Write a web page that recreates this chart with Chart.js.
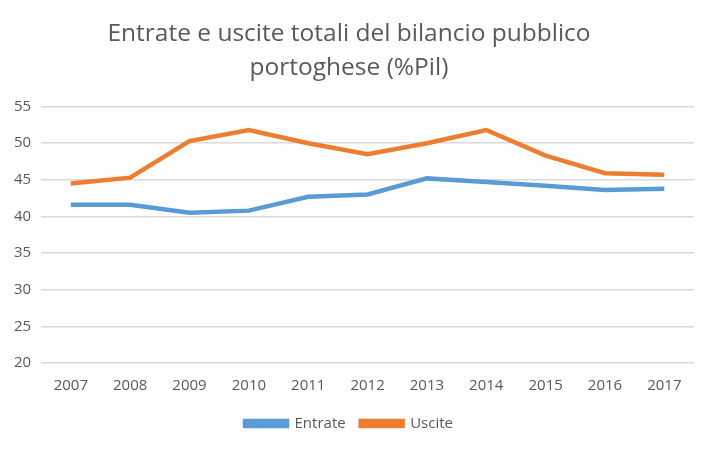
<!DOCTYPE html>
<html>
<head>
<meta charset="utf-8">
<script src="https://cdn.jsdelivr.net/npm/chart.js@4"></script>
<style>
  body { margin: 0; background: #fff; }
</style>
</head>
<body>
<canvas id="GraficoBilancio" width="710" height="451"></canvas>
<script>
var anni = ["2007", "2008", "2009", "2010", "2011", "2012", "2013", "2014", "2015", "2016", "2017"];
var entrate = [41.6, 41.6, 40.5, 40.8, 42.7, 43.0, 45.2, 44.7, 44.2, 43.6, 43.8];
var uscite = [44.5, 45.3, 50.3, 51.8, 50.0, 48.5, 50.0, 51.8, 48.3, 45.9, 45.7];

new Chart(document.getElementById("GraficoBilancio"), {
    type: 'line',
    data: {
        labels: anni,
        datasets: [{
            label: "Entrate",
            data: entrate,
            borderColor: "#5B9BD5",
            backgroundColor: "#5B9BD5",
            borderWidth: 4.5,
            pointRadius: 0,
            fill: false,
            tension: 0
        }, {
            label: "Uscite",
            data: uscite,
            borderColor: "#ED7D31",
            backgroundColor: "#ED7D31",
            borderWidth: 4.5,
            pointRadius: 0,
            fill: false,
            tension: 0
        }]
    },
    options: {
        responsive: false,
        animation: false,
        layout: {
            padding: { left: 4, right: 16, top: 13, bottom: 10 }
        },
        plugins: {
            title: {
                display: true,
                text: ["Entrate e uscite totali del bilancio pubblico", "portoghese (%Pil)"],
                color: "#595959",
                font: { family: "Open Sans", size: 24.5, weight: 'normal', lineHeight: 1.4 },
                padding: { top: 4, bottom: 21 }
            },
            legend: {
                position: 'bottom',
                labels: {
                    color: "#595959",
                    font: { family: "Open Sans", size: 15 },
                    boxWidth: 42,
                    boxHeight: 5,
                    padding: 15
                }
            }
        },
        scales: {
            x: {
                offset: true,
                grid: { display: false },
                border: { display: false },
                ticks: {
                    color: "#595959",
                    font: { family: "Open Sans", size: 15 },
                    padding: 6,
                    maxRotation: 0
                }
            },
            y: {
                min: 20,
                max: 55,
                ticks: {
                    stepSize: 5,
                    color: "#595959",
                    font: { family: "Open Sans", size: 15 },
                    padding: 10
                },
                grid: { color: "#D9D9D9", lineWidth: 1.5, drawTicks: false },
                border: { display: false }
            }
        }
    }
});
</script>
</body>
</html>
